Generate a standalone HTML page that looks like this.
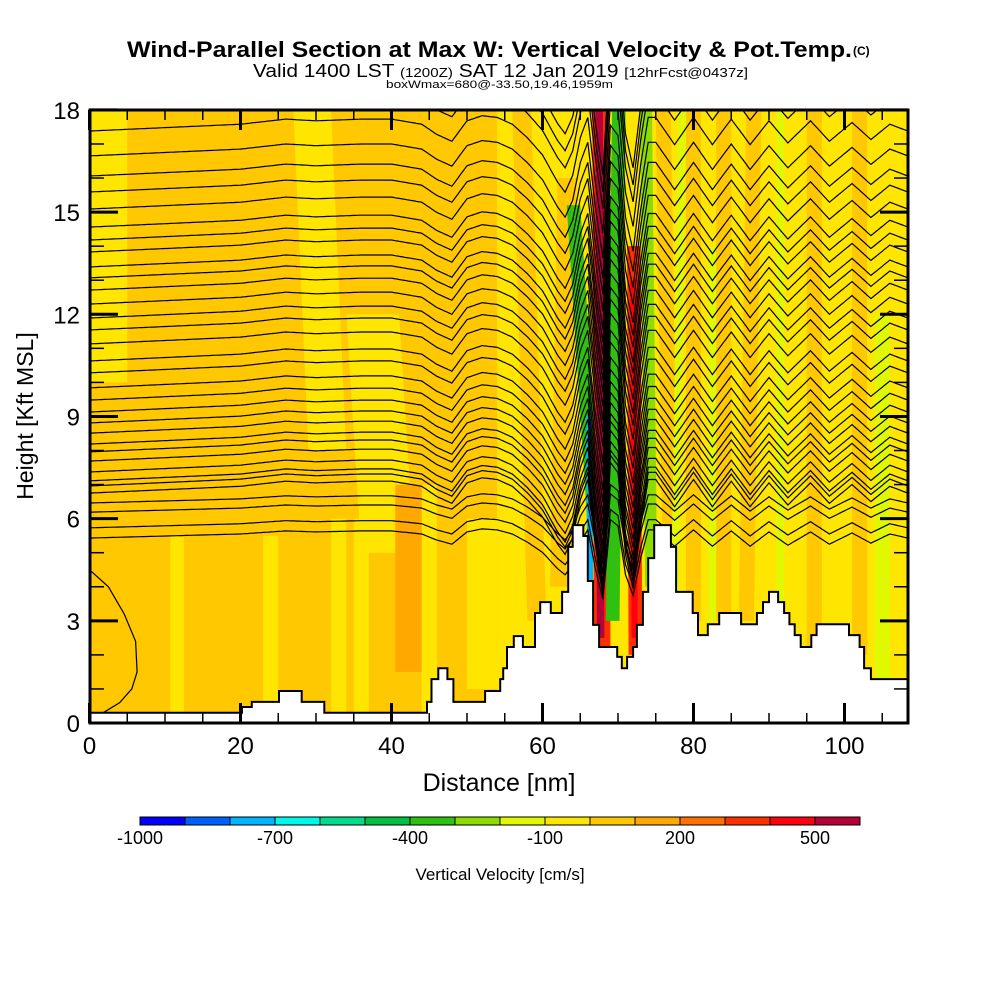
<!DOCTYPE html>
<html><head><meta charset="utf-8"><style>
html,body{margin:0;padding:0;background:#fff;}
svg{display:block;}
text{font-family:"Liberation Sans",sans-serif;}
</style></head><body>
<svg id="chart" width="1000" height="1000" viewBox="0 0 1000 1000">
<text x="127" y="57" font-size="22" font-weight="bold" textLength="725" lengthAdjust="spacingAndGlyphs">Wind-Parallel Section at Max W: Vertical Velocity &amp; Pot.Temp.</text>
<text x="853" y="55" font-size="12" font-weight="bold">(C)</text>
<text x="253" y="77" font-size="18" textLength="495" lengthAdjust="spacingAndGlyphs">Valid 1400 LST <tspan font-size="13">(1200Z)</tspan> SAT 12 Jan 2019 <tspan font-size="13">[12hrFcst@0437z]</tspan></text>
<text x="386" y="88" font-size="11" textLength="227" lengthAdjust="spacingAndGlyphs">boxWmax=680@-33.50,19.46,1959m</text>
<defs><clipPath id="plotclip"><rect x="90" y="110" width="818" height="613"/></clipPath></defs>
<g id="plot" clip-path="url(#plotclip)"></g>
<g id="axes"></g>
<text x="0" y="0" transform="translate(33,416) rotate(-90)" text-anchor="middle" font-size="23">Height [Kft MSL]</text>
<text x="499" y="791" text-anchor="middle" font-size="25">Distance [nm]</text>
<g id="cbar"></g>
<text x="500" y="880" text-anchor="middle" font-size="17">Vertical Velocity [cm/s]</text>
</svg>
<script>
// ---- data ----
const xTicks = [0,20,40,60,80,100];
const yTicks = [0,3,6,9,12,15,18];
const cbarValues = [-1000,-900,-800,-700,-600,-500,-400,-300,-200,-100,0,100,200,300,400,500];
const cbarColors = ['#0000ff','#0060ff','#00b4ff','#00f8e8','#00dc8c','#00c040','#30c010','#8cdc00','#e0f800','#ffe600','#ffc800','#ffa800','#ff7000','#ff3000','#ff0010','#b80038'];
const cbarLabels = [-1000,-700,-400,-100,200,500];
// terrain steps (distance nm start, height kft)
const terrX = [0,20.2,21.5,25.1,28.1,31.1,44.7,45.3,46.2,47.4,48.2,52.4,54.4,54.8,55.3,56.2,57.4,59.0,59.7,61.1,62.6,63.4,64.0,65.4,66.0,66.7,67.5,69.9,70.5,71.2,72.0,72.5,73.3,74.0,74.8,77.0,77.7,79.9,80.6,81.9,83.4,86.3,88.4,89.2,90.0,91.2,92.0,92.7,93.4,94.2,95.6,96.3,100.6,102.0,102.6,103.5];
const terrH = [0.3,0.47,0.62,0.94,0.62,0.3,0.62,1.29,1.61,1.29,0.62,0.94,1.29,1.61,2.23,2.55,2.23,3.23,3.55,3.23,3.85,5.17,5.81,5.49,4.17,2.88,2.23,1.94,1.61,1.94,2.23,2.88,3.85,4.84,5.81,5.17,3.85,3.23,2.58,2.9,3.23,2.9,3.23,3.55,3.85,3.55,3.23,2.9,2.58,2.23,2.58,2.9,2.58,2.23,1.61,1.29];
// vertical-velocity bands: top-left x, bottom-left x, width (nm), top kft, bottom kft, value cm/s
const bandXT  = [54,0,27,34,10.7,23,32,35,40.5,44,50,56,62,75,79,83,87,95,101,73,78,82,91,104,63.2,66.6,67.0,69.2,71.2,71.6,72.9,65.8];
const bandXB  = [54,0,29,36,10.7,23,32,35,40.5,44,50,58,61,76,79,83,86,95,101,74,77,82,91,104,65.9,66.8,67.2,68.4,71.4,71.8,73.6,65.9];
const bandW   = [55,5,5,7,1.8,2,2,2,4.5,2,4,2.5,2.5,2,2,2,2,2,2,1,1,1,1,2,1.8,2.2,1,1.8,1.8,0.8,1.6,0.8];
const bandTop = [18,18,18,12,5.5,5.5,6,6,7,7,6,18,16,18,18,18,18,18,18,18,18,14,18,12,15.2,18,18,18,14,13,18,9];
const bandBot = [0,10,8,5,0,0.5,0,0,1.5,0,1,3,4,3,3,3,3,2,2,4,3,3,2,1,6,2,2.5,3,2,2.5,4,4.2];
const bandVal = [-50,-50,-50,-50,-50,-50,-50,-50,150,-50,-50,50,50,50,50,50,50,50,50,-150,-150,-150,-150,-150,-350,350,550,-350,350,450,-250,-800];
// isentrope base heights at left edge (kft)
const thetaLevels = [19.1,18.6,18.1,17.38,16.65,16.06,15.59,15.09,14.56,14.18,13.83,13.39,13.07,12.71,12.3,11.89,11.54,11.13,10.63,10.28,9.84,9.48,9.13,8.81,8.51,8.19,7.96,7.69,7.37,7.11,6.96,6.75,6.46,6.19,5.73,5.43];
// displacement profile along section (kft)
const dispX = [0,10,20,26,30,36,40,44,46,48,50,52,54,56,58,60,61,62,63,64,65,66,67,68,69,70,71,72,73,74,75,77.5,80,82.5,85,87.5,90,92.5,95.5,98,101,103.5,106,108.4];
const dispV = [0,0.1,0.2,0.35,0.3,0.35,0.35,0.2,-0.1,-0.3,0.3,0.45,0.4,0.2,-0.2,-0.7,-1.1,-1.5,-1.8,-1.3,-0.2,0.4,-1.5,-3.0,0.9,0.6,-1.8,-2.8,-1.0,0.4,0.4,-0.4,0.4,-0.4,0.35,-0.4,0.3,-0.35,0.3,-0.3,0.25,-0.25,0.2,0];
// closed low-level contour near left edge (nm, kft)
const loopX = [0,2.5,4.6,6.1,6.3,5.6,4,1.8,0];
const loopH = [4.5,4.0,3.2,2.4,1.5,1.0,0.6,0.3,0.2];

// ---- scales ----
const X = v => 89.5 + v*7.55;
const Y = v => 723 - v*34.06;
const NS = 'http://www.w3.org/2000/svg';
function mk(tag, attrs, parent){const e=document.createElementNS(NS,tag);for(const k in attrs)e.setAttribute(k,attrs[k]);parent.appendChild(e);return e;}
function colorFor(v){let i=Math.floor((v+1000)/100);i=Math.max(0,Math.min(cbarColors.length-1,i));return cbarColors[i];}
function interp(x){for(let i=0;i<dispX.length-1;i++){if(x>=dispX[i]&&x<=dispX[i+1]){const t=(x-dispX[i])/(dispX[i+1]-dispX[i]);return dispV[i]+t*(dispV[i+1]-dispV[i]);}}return 0;}

const plot=document.getElementById('plot');
const bg=mk('rect',{x:90,y:110,width:818,height:613,fill:colorFor(50)},plot);


for(let i=0;i<bandVal.length;i++){
  const pts=[[X(bandXT[i]),Y(bandTop[i])],[X(bandXT[i]+bandW[i]),Y(bandTop[i])],[X(bandXB[i]+bandW[i]),Y(bandBot[i])],[X(bandXB[i]),Y(bandBot[i])]];
  const p=mk('polygon',{points:pts.map(q=>q.join(',')).join(' '),fill:colorFor(bandVal[i])},plot);
  
  
}
// isentropes
for(let j=0;j<thetaLevels.length;j++){
  const h0=thetaLevels[j];
  const amp=h0<6.5?0.6:1;
  let d='';
  for(let x=0;x<=108.5;x+=0.25){
    const h=h0+amp*interp(x);
    d+=(x===0?'M':'L')+X(x).toFixed(1)+','+Y(h).toFixed(1);
  }
  const l=mk('path',{d:d,fill:'none',stroke:'#000','stroke-width':1.2},plot);
  
  
}
{
  let d='';
  for(let i=0;i<loopX.length;i++)d+=(i?'L':'M')+X(loopX[i]).toFixed(1)+','+Y(loopH[i]).toFixed(1);
  const l=mk('path',{d:d,fill:'none',stroke:'#000','stroke-width':1.2},plot);
  
  
}
// terrain
{
  let d='M'+X(0)+','+Y(0)+' L'+X(0)+','+Y(terrH[0]);
  for(let i=0;i<terrX.length;i++){
    const xe=i<terrX.length-1?terrX[i+1]:108.6;
    d+=' L'+X(terrX[i]).toFixed(1)+','+Y(terrH[i]).toFixed(1)+' L'+X(xe).toFixed(1)+','+Y(terrH[i]).toFixed(1);
  }
  d+=' L'+X(108.6)+','+Y(0)+' Z';
  const t=mk('path',{d:d,fill:'#fff',stroke:'#000','stroke-width':2},plot);
  
  
}
// axes
const axes=document.getElementById('axes');
const frame=mk('rect',{x:90,y:110,width:818,height:613,fill:'none',stroke:'#000','stroke-width':3},axes);


for(let v=0;v<=105;v+=5){
  const major=v%20===0, len=major?20:10;
  mk('line',{x1:X(v),y1:723,x2:X(v),y2:723-len,stroke:'#000','stroke-width':major?3:1.5},axes);
  mk('line',{x1:X(v),y1:110,x2:X(v),y2:110+len,stroke:'#000','stroke-width':major?3:1.5},axes);
}
for(let v=0;v<=18;v+=1){
  const major=v%3===0, len=major?28:14;
  mk('line',{x1:90,y1:Y(v),x2:90+len,y2:Y(v),stroke:'#000','stroke-width':major?3:1.5},axes);
  mk('line',{x1:908,y1:Y(v),x2:908-len,y2:Y(v),stroke:'#000','stroke-width':major?3:1.5},axes);
}
xTicks.forEach(v=>{
  const t=mk('text',{x:X(v),y:754,'text-anchor':'middle','font-size':24},axes);
  t.textContent=v;
  
  
});
yTicks.forEach(v=>{
  const t=mk('text',{x:80,y:Y(v)+9,'text-anchor':'end','font-size':24},axes);
  t.textContent=v;
  
  
});
// colorbar
const cb=document.getElementById('cbar');
const cbX=v=>140+(v+1000)*0.45;
cbarValues.forEach((v,i)=>{
  const r=mk('rect',{x:cbX(v),y:817,width:45,height:8,fill:cbarColors[i],stroke:'#000','stroke-width':1},cb);
  
  
});
cbarLabels.forEach(v=>{
  const t=mk('text',{x:cbX(v),y:844,'text-anchor':'middle','font-size':18},cb);
  t.textContent=v;
  
  
});
</script>
</body></html>
